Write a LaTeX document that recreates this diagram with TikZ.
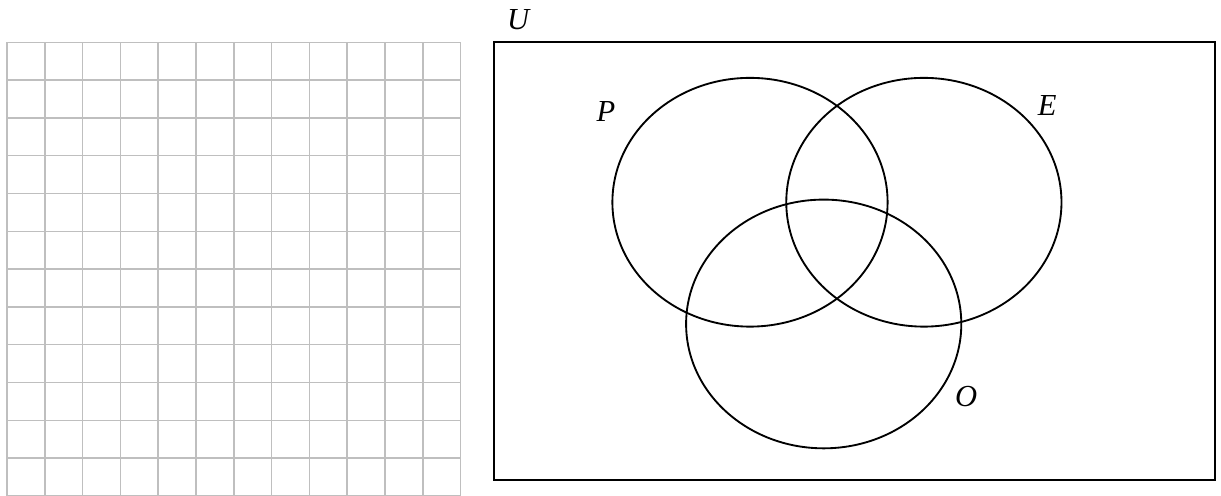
\documentclass[tikz,border=0pt]{standalone}
\usepackage{fontspec}
\setmainfont{Liberation Serif}
\usetikzlibrary{shapes.geometric, positioning}

\begin{document}
\begin{tikzpicture}[
    gridline/.style={draw=gray!50, line width=1.1pt},
    setbox/.style={draw=black, line width=1.5pt},
    setring/.style={ellipse, draw=black, line width=1.4pt, inner sep=0pt, minimum width=7.28cm, minimum height=6.58cm},
    setlabel/.style={font=\fontsize{23}{27}\selectfont\itshape}]
    \useasboundingbox (0,0) rectangle (32.30,13.12);

    % Grid
    \begin{scope}[xshift=0.185cm]
    \draw[gridline] (0,-0.5) grid (12,12);
    \end{scope}

    % Universe
    \node[setbox, rectangle, minimum width=19.08cm, minimum height=11.58cm, inner sep=0pt] (univ) at (22.61,6.21) {};
    \node[setlabel] (lu) at (13.71,12.60) {U};

    % Sets
    \node[setring] (setp) at (19.84,7.77) {};
    \node[setring] (sete) at (24.44,7.77) {};
    \node[setring] (seto) at (21.79,4.55) {};
    \node[setlabel] (lp) at (16.03,10.16) {P};
    \node[setlabel] (le) at (27.70,10.32) {E};
    \node[setlabel] (lo) at (25.56,2.62) {O};
\end{tikzpicture}
\end{document}
